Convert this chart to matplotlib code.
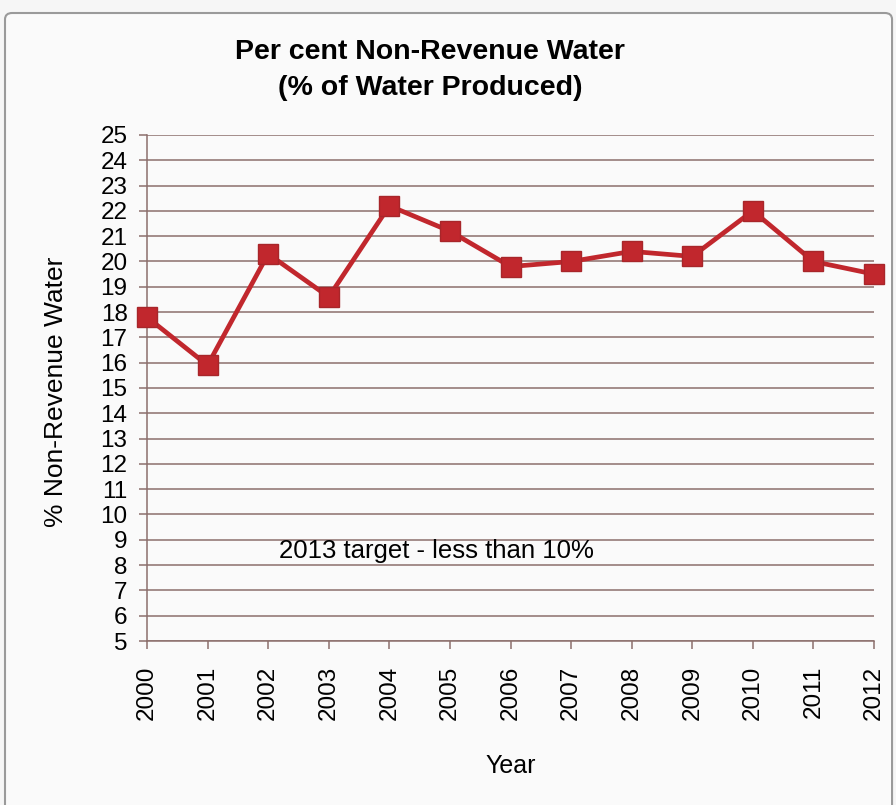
import matplotlib
matplotlib.use("Agg")
import matplotlib.pyplot as plt
from matplotlib import font_manager
from matplotlib.patches import FancyBboxPatch

# Non-revenue water, per cent of water produced
years = [2000, 2001, 2002, 2003, 2004, 2005, 2006, 2007, 2008, 2009, 2010, 2011, 2012]
nrw_pct = [17.8, 15.9, 20.3, 18.6, 22.2, 21.2, 19.8, 20.0, 20.4, 20.2, 22.0, 20.0, 19.5]
y_ticks = list(range(5, 26))

line_col = "#c1272d"
grid_col = "#8c6f6c"

plt.rcParams["font.family"] = ["Liberation Sans", "DejaVu Sans"]

names = {f.name for f in font_manager.fontManager.ttflist}
title_family = "Liberation Sans Narrow" if "Liberation Sans Narrow" in names else "Liberation Sans"

fig = plt.figure(figsize=(8.96, 8.05), dpi=100)
fig.patch.set_facecolor("#f6f6f6")

# chart frame
frame = FancyBboxPatch((5 / 896, -0.05), 0.99, 0.05 + (805 - 13) / 805,
                       boxstyle="round,pad=0,rounding_size=0.008",
                       transform=fig.transFigure, facecolor="#fafafa",
                       edgecolor="#9a9a9a", linewidth=1.5, zorder=-10)
fig.patches.append(frame)

ax = fig.add_axes([147 / 896, 164 / 805, 727 / 896, 506 / 805])
ax.set_facecolor("none")

ax.plot(years, nrw_pct, color=line_col, linewidth=3.4, marker="s",
        markersize=14, markerfacecolor=line_col, markeredgecolor="#a8262a",
        zorder=3, clip_on=False)

ax.set_xlim(2000, 2012)
ax.set_ylim(5, 25)
ax.set_yticks(y_ticks)
ax.set_xticks(years)
ax.set_xticklabels([str(y) for y in years], rotation=90)
ax.grid(axis="y", color=grid_col, linewidth=1.1)
for s in ["top", "right", "bottom"]:
    ax.spines[s].set_visible(False)
ax.spines["left"].set_color(grid_col)
ax.spines["left"].set_linewidth(1.1)
ax.axhline(5, color=grid_col, linewidth=1.1, clip_on=False)
ax.tick_params(axis="both", colors=grid_col, labelcolor="black",
               labelsize=17.5, length=6, width=1.1)
ax.tick_params(axis="y", pad=8)
ax.tick_params(axis="x", pad=12)

ax.set_ylabel("% Non-Revenue Water", fontsize=19)
ax.yaxis.set_label_coords(-0.109, 0.492)
ax.set_xlabel("Year", fontsize=18, labelpad=24)

ax.text(2004.77, 8.56, "2013 target - less than 10%", fontsize=18.5,
        ha="center", va="center")

fig.text(430 / 896, 1 - 70 / 805, "Per cent Non-Revenue Water\n(% of Water Produced)",
         ha="center", va="center", fontsize=20.5, fontweight="bold",
         family=[title_family, "DejaVu Sans"], linespacing=1.5)

fig.savefig("out.png", dpi=100, facecolor=fig.get_facecolor())
